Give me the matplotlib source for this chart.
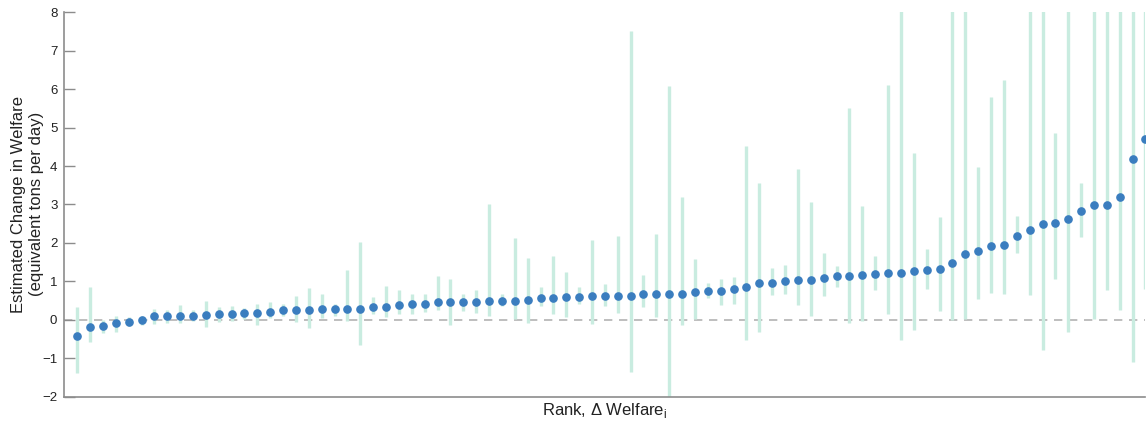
import matplotlib
matplotlib.use("Agg")
import matplotlib.pyplot as plt
import numpy as np

plt.rcParams['font.family'] = ['Liberation Sans', 'DejaVu Sans']

# point estimates, sorted by rank
estimate = [-0.43, -0.18, -0.16, -0.08, -0.05, -0.01, 0.09, 0.09, 0.10, 0.10,
            0.13, 0.14, 0.15, 0.17, 0.18, 0.21, 0.25, 0.25, 0.26, 0.28,
            0.28, 0.28, 0.28, 0.32, 0.33, 0.39, 0.40, 0.42, 0.46, 0.46,
            0.46, 0.46, 0.48, 0.48, 0.50, 0.51, 0.56, 0.56, 0.59, 0.60,
            0.61, 0.61, 0.62, 0.63, 0.66, 0.66, 0.67, 0.68, 0.71, 0.74,
            0.76, 0.79, 0.85, 0.95, 0.96, 1.01, 1.03, 1.03, 1.09, 1.13,
            1.13, 1.17, 1.19, 1.22, 1.22, 1.27, 1.29, 1.31, 1.47, 1.71,
            1.78, 1.92, 1.94, 2.18, 2.34, 2.49, 2.53, 2.63, 2.83, 2.98,
            2.99, 3.20, 4.17, 4.71]

ci_low = [-1.38, -0.59, -0.35, -0.31, -0.17, -0.14, -0.10, -0.08, -0.08, -0.03,
          -0.18, -0.05, -0.03, 0.03, -0.14, 0.05, 0.11, -0.05, -0.21, 0.05,
          0.11, -0.03, -0.66, 0.16, 0.08, 0.16, 0.16, 0.20, 0.26, -0.14,
          0.23, 0.18, 0.10, 0.36, 0.02, -0.08, 0.36, 0.14, 0.08, 0.41,
          -0.10, 0.36, 0.18, -1.36, 0.32, 0.08, -2.40, -0.14, 0.03, 0.57,
          0.39, 0.41, -0.53, -0.31, 0.64, 0.68, 0.38, 0.10, 0.63, 0.86,
          -0.08, -0.03, 0.77, 0.14, -0.53, -0.27, 0.80, 0.23, 0.00, 0.03,
          0.53, 0.70, 0.66, 1.73, 0.64, -0.79, 1.05, -0.33, 2.16, 0.03,
          0.78, 0.26, -1.10, 0.80]

ci_high = [0.34, 0.84, 0.00, 0.09, 0.06, 0.11, 0.28, 0.25, 0.39, 0.25,
           0.49, 0.34, 0.36, 0.31, 0.42, 0.47, 0.40, 0.62, 0.82, 0.68,
           0.42, 1.29, 2.03, 0.58, 0.87, 0.77, 0.68, 0.68, 1.14, 1.05,
           0.66, 0.78, 3.01, 0.68, 2.14, 1.62, 0.86, 1.66, 1.24, 0.84,
           2.07, 0.94, 2.18, 7.50, 1.16, 2.22, 6.09, 3.19, 1.58, 0.97,
           1.05, 1.12, 4.52, 3.55, 1.34, 1.42, 3.92, 3.06, 1.74, 1.41,
           5.51, 2.96, 1.67, 6.11, 9.20, 4.33, 1.84, 2.68, 9.50, 9.10,
           3.98, 5.79, 6.23, 2.70, 9.40, 10.20, 4.85, 9.30, 3.57, 9.80,
           9.60, 10.50, 11.00, 12.00]

rank = np.arange(1, len(estimate) + 1)

fig = plt.figure(figsize=(11.48, 4.22), dpi=100)
ax = fig.add_axes([0.056, 0.06, 0.9418, 0.911])

ax.axhline(0, color='#b3b3b3', linewidth=1.2, linestyle=(0, (5, 4)), zorder=1)
ax.vlines(rank, ci_low, ci_high, color='#c9ece0', linewidth=2.4, zorder=2)
ax.plot(rank, estimate, 'o', color='#3a7dbf', markersize=5.2, zorder=3)

ax.set_xlim(0, len(estimate))
ax.set_ylim(-2, 8)
ax.set_yticks(range(-2, 9))
ax.set_xticks([])

for s in ['top', 'right']:
    ax.spines[s].set_visible(False)
for s in ['left', 'bottom']:
    ax.spines[s].set_color('#8c8c8c')
    ax.spines[s].set_linewidth(1.2)
ax.tick_params(axis='y', direction='in', length=8, width=1, color='#8c8c8c',
               labelsize=9.5, pad=5, labelcolor='#222222')

fig.text(27.5 / 1148, 0.516, 'Estimated Change in Welfare\n(equivalent tons per day)',
         rotation=90, ha='center', va='center', fontsize=12,
         color='#222222', linespacing=1.3)
ax.set_xlabel('Rank, Δ Welfare$_\\mathregular{i}$', fontsize=12,
              color='#222222', labelpad=3)

fig.savefig('out.png', dpi=100)
